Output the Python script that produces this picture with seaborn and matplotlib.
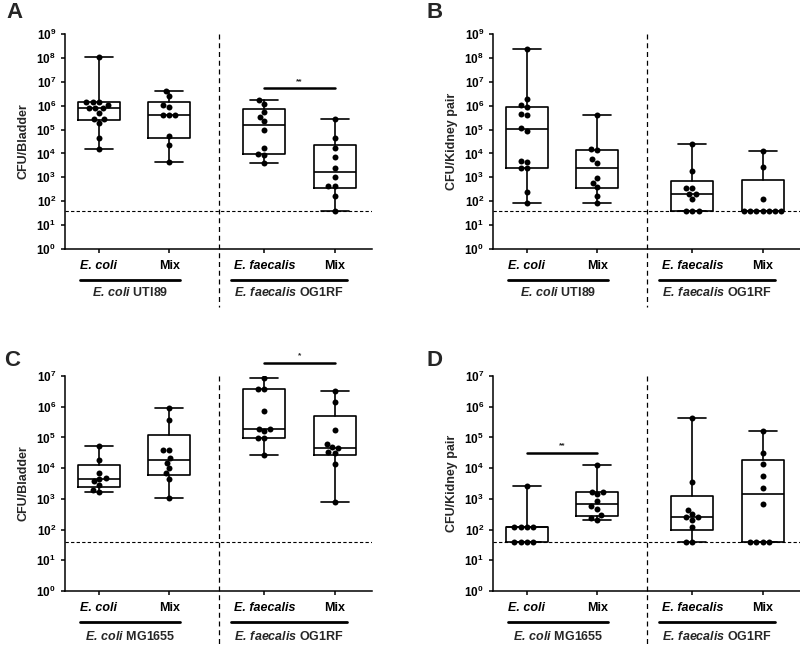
import numpy as np
import pandas as pd
import matplotlib
matplotlib.use("Agg")
import matplotlib.pyplot as plt
import seaborn as sns
from matplotlib.ticker import NullLocator

# box positions on the x axis (two pairs with a gap between)
positions = [0, 1, 2.35, 3.35]
tick_labels = ["E. coli", "Mix", "E. faecalis", "Mix"]
LOD = 40  # limit of detection

# Panel A - bladder, UTI89
a_ecoli = [1.1e8, 1.4e6, 1.4e6, 1.4e6, 1.07e6, 7.9e5, 7.9e5, 7.9e5, 5e5, 2.75e5, 2.75e5, 1.9e5, 4.4e4, 1.6e4]
a_mix = [4.2e6, 2.5e6, 1.07e6, 8.5e5, 3.9e5, 3.9e5, 3.9e5, 5.4e4, 2.2e4, 4.5e3]
a_faec = [1.7e6, 1.2e6, 5.6e5, 3.4e5, 2.3e5, 9.5e4, 1.7e4, 9.5e3, 8.5e3, 3.8e3]
a_mix2 = [2.75e5, 4.3e4, 1.7e4, 7.3e3, 2.4e3, 1.0e3, 4.3e2, 4.3e2, 1.65e2, 40]

# Panel B - kidney, UTI89
b_ecoli = [2.3e8, 1.9e6, 1.07e6, 8.7e5, 4.5e5, 4.1e5, 1.15e5, 8.7e4, 4.8e3, 4.4e3, 2.45e3, 2.45e3, 2.35e2, 81]
b_mix = [4.1e5, 1.6e4, 1.4e4, 5.6e3, 4.1e3, 9e2, 6e2, 4.1e2, 1.65e2, 81]
b_faec = [2.4e4, 1.8e3, 355, 355, 200, 200, 123, 40, 40, 40]
b_mix2 = [1.3e4, 2.8e3, 123, 40, 40, 40, 40, 40, 40, 40]

# Panel C - bladder, MG1655
c_ecoli = [5.2e4, 1.9e4, 7.2e3, 4.8e3, 4.6e3, 3.8e3, 2.9e3, 1.9e3, 1.7e3]
c_mix = [8.9e5, 3.7e5, 3.9e4, 3.9e4, 2.2e4, 1.5e4, 1.0e4, 6.7e3, 4.6e3, 1.1e3]
c_faec = [8.9e6, 3.8e6, 3.8e6, 7.2e5, 1.95e5, 1.95e5, 1.6e5, 9.3e4, 9.3e4, 2.7e4]
c_mix2 = [3.2e6, 1.4e6, 1.74e5, 6e4, 4.8e4, 4.5e4, 3.3e4, 3.1e4, 1.35e4, 8e2]

# Panel D - kidney, MG1655
d_ecoli = [2.6e3, 120, 120, 120, 120, 40, 40, 40, 40]
d_mix = [1.25e4, 1.7e3, 1.7e3, 1.4e3, 8.4e2, 5.7e2, 4.8e2, 2.9e2, 2.4e2, 2e2]
d_faec = [4.2e5, 3.6e3, 4.5e2, 3.3e2, 2.6e2, 2.5e2, 2.1e2, 1.2e2, 40, 40]
d_mix2 = [1.65e5, 3.2e4, 1.4e4, 5.6e3, 2.3e3, 6.6e2, 40, 40, 40, 40]

sns.set_theme(style="ticks")
plt.rcParams.update({
    "font.family": "Liberation Sans",
    "mathtext.fontset": "custom",
    "mathtext.rm": "Liberation Sans:bold",
    "mathtext.bf": "Liberation Sans:bold",
    "mathtext.it": "Liberation Sans:italic:bold",
    "mathtext.bfit": "Liberation Sans:italic:bold",
    "mathtext.default": "bf",
    "axes.linewidth": 1.1,
    "xtick.major.width": 1.1,
    "ytick.major.width": 1.1,
    "xtick.major.size": 3,
    "ytick.major.size": 3,
    "xtick.color": "black",
    "ytick.color": "black",
    "axes.edgecolor": "black",
})


def draw_panel(ax, groups, ylabel, top_exp, strain, sig, label_y):
    ax.set_yscale("log")
    ax.set_ylim(1, 10 ** top_exp)
    ax.set_xlim(-0.48, 3.88)

    # boxes: min-max whiskers, quartiles like Prism (n+1 method)
    stats = []
    for vals in groups:
        q1, med, q3 = np.percentile(vals, [25, 50, 75], method="weibull")
        stats.append(dict(med=med, q1=q1, q3=q3, whislo=min(vals), whishi=max(vals), fliers=[]))
    line = dict(color="black", linewidth=1.2)
    ax.bxp(stats, positions=positions, widths=0.6, capwidths=0.4, showfliers=False,
           boxprops=line, whiskerprops=line, capprops=line, medianprops=line,
           manage_ticks=False)

    df = pd.DataFrame({
        "pos": np.repeat(positions, [len(g) for g in groups]),
        "cfu": np.concatenate(groups),
    })
    sns.swarmplot(data=df, x="pos", y="cfu", native_scale=True, orient="x",
                  color="black", size=4.3, ax=ax, zorder=3)

    ax.set_xlim(-0.48, 3.88)
    ax.set_xticks(positions, tick_labels, fontsize=9, fontweight="bold")
    for i, t in enumerate(ax.get_xticklabels()):
        if i in (0, 2):
            t.set_fontstyle("italic")
    ax.set_yticks([10 ** i for i in range(top_exp + 1)],
                  [f"$10^{{{i}}}$" for i in range(top_exp + 1)], fontsize=8.5)
    ax.yaxis.set_minor_locator(NullLocator())
    ax.tick_params(axis="x", pad=5)
    ax.set_xlabel("")
    ax.set_ylabel(ylabel, fontsize=9, fontweight="bold")
    ax.yaxis.set_label_coords(-0.115, 0.5)
    sns.despine(ax=ax)

    # limit of detection and divider
    ax.axhline(LOD, color="black", lw=0.8, ls=(0, (3, 2)), zorder=1)
    ax.plot([1.7, 1.7], [1.0, -0.27], transform=ax.get_xaxis_transform(),
            clip_on=False, color="black", lw=0.9, ls=(0, (4, 3)))

    # strain group lines and labels
    xt = ax.get_xaxis_transform()
    ax.plot([-0.27, 1.15], [-0.145, -0.145], transform=xt, clip_on=False, color="black", lw=2)
    ax.plot([1.88, 3.52], [-0.145, -0.145], transform=xt, clip_on=False, color="black", lw=2)
    ax.text(0.45, label_y, r"$\mathbfit{E.\,coli}$ " + strain, transform=xt, ha="center", va="top",
            fontsize=9, fontweight="bold")
    ax.text(2.7, label_y, r"$\mathbfit{E.\,faecalis}$ OG1RF", transform=xt, ha="center", va="top",
            fontsize=9, fontweight="bold")

    # significance bar
    if sig is not None:
        x0, x1, yb, stars = sig
        ax.plot([positions[x0], positions[x1]], [yb, yb], color="black", lw=1.8, clip_on=False)
        ax.text((positions[x0] + positions[x1]) / 2, yb * 1.35, stars, ha="center", va="bottom",
                fontsize=6, fontweight="bold")


fig = plt.figure(figsize=(8, 6.46), dpi=100)
W, H = 800, 646
w, h = 307 / W, 215 / H
axA = fig.add_axes([65 / W, (H - 249) / H, w, h])
axB = fig.add_axes([493 / W, (H - 249) / H, w, h])
axC = fig.add_axes([65 / W, (H - 591) / H, w, h])
axD = fig.add_axes([493 / W, (H - 591) / H, w, h])

draw_panel(axA, [a_ecoli, a_mix, a_faec, a_mix2], "CFU/Bladder", 9, "UTI89", (2, 3, 10 ** 6.72, "**"), -0.172)
draw_panel(axB, [b_ecoli, b_mix, b_faec, b_mix2], "CFU/Kidney pair", 9, "UTI89", None, -0.172)
draw_panel(axC, [c_ecoli, c_mix, c_faec, c_mix2], "CFU/Bladder", 7, "MG1655", (2, 3, 10 ** 7.41, "*"), -0.183)
draw_panel(axD, [d_ecoli, d_mix, d_faec, d_mix2], "CFU/Kidney pair", 7, "MG1655", (0, 1, 10 ** 4.5, "**"), -0.183)

for x, y, letter in [(6, 2, "A"), (426, 2, "B"), (4, 350, "C"), (426, 350, "D")]:
    fig.text(x / W, 1 - y / H, letter, fontsize=16, fontweight="bold", va="top", ha="left")

fig.savefig("out.png", dpi=100)
